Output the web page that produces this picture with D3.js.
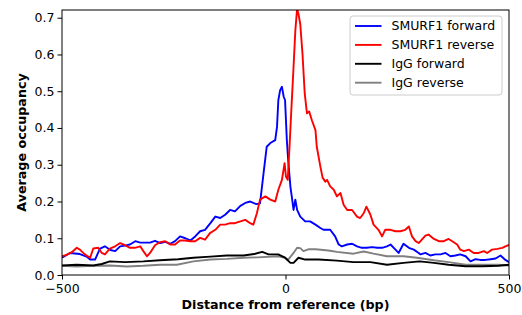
<!DOCTYPE html>
<html>
<head>
<meta charset="utf-8">
<script src="https://cdn.jsdelivr.net/npm/d3@7"></script>
<style>
  html, body { margin: 0; padding: 0; background: #fff; overflow: hidden; }
  svg { display: block; }
  text { font-family: "DejaVu Sans", sans-serif; }
</style>
</head>
<body>
<div id="chart"></div>
<script>
// series values: [distance (bp), average occupancy]
const smurfForward = [
    [-500, 0.047], [-482, 0.060], [-460, 0.057], [-445, 0.050], [-437, 0.042], [-426, 0.042],
    [-415, 0.072], [-404, 0.078], [-392, 0.068], [-381, 0.065], [-370, 0.078], [-359, 0.080],
    [-348, 0.083], [-336, 0.092], [-325, 0.088], [-314, 0.088], [-303, 0.088], [-292, 0.093],
    [-280, 0.087], [-269, 0.090], [-258, 0.085], [-247, 0.092], [-236, 0.105], [-224, 0.100],
    [-213, 0.094], [-202, 0.105], [-191, 0.119], [-180, 0.123], [-168, 0.141], [-157, 0.159],
    [-146, 0.155], [-135, 0.164], [-124, 0.177], [-113, 0.173], [-101, 0.188], [-90, 0.196],
    [-79, 0.200], [-72, 0.196], [-65, 0.193], [-57, 0.195], [-49, 0.278], [-42, 0.349],
    [-34, 0.359], [-23, 0.367], [-19, 0.403], [-16, 0.476], [-12, 0.503], [-8, 0.512],
    [-4, 0.485], [-1, 0.476], [3, 0.367], [6, 0.313], [11, 0.240], [14, 0.214], [18, 0.177],
    [22, 0.205], [26, 0.177], [33, 0.159], [44, 0.146], [55, 0.146], [67, 0.137], [78, 0.128],
    [85, 0.123], [93, 0.123], [100, 0.123], [111, 0.105], [119, 0.083], [126, 0.078],
    [138, 0.083], [149, 0.085], [160, 0.078], [171, 0.074], [182, 0.074], [194, 0.076],
    [205, 0.074], [216, 0.074], [227, 0.078], [235, 0.083], [246, 0.069], [253, 0.060],
    [264, 0.085], [276, 0.074], [287, 0.069], [298, 0.060], [302, 0.056], [313, 0.060],
    [324, 0.053], [335, 0.056], [347, 0.056], [358, 0.060], [369, 0.051], [380, 0.053],
    [391, 0.056], [403, 0.051], [414, 0.037], [425, 0.043], [436, 0.041], [447, 0.041],
    [459, 0.043], [470, 0.045], [481, 0.053], [492, 0.041], [500, 0.035]
];

const smurfReverse = [
    [-500, 0.051], [-490, 0.055], [-478, 0.062], [-467, 0.074], [-460, 0.069], [-449, 0.056],
    [-437, 0.047], [-430, 0.072], [-419, 0.074], [-411, 0.060], [-404, 0.056], [-393, 0.072],
    [-381, 0.078], [-370, 0.087], [-359, 0.081], [-348, 0.074], [-337, 0.074], [-325, 0.078],
    [-318, 0.065], [-310, 0.051], [-303, 0.060], [-292, 0.081], [-281, 0.089], [-269, 0.092],
    [-258, 0.083], [-247, 0.083], [-236, 0.094], [-225, 0.094], [-213, 0.092], [-202, 0.092],
    [-191, 0.101], [-180, 0.096], [-169, 0.114], [-157, 0.123], [-146, 0.137], [-135, 0.137],
    [-124, 0.141], [-113, 0.141], [-101, 0.146], [-90, 0.150], [-79, 0.141], [-72, 0.137],
    [-64, 0.168], [-57, 0.205], [-45, 0.214], [-34, 0.205], [-23, 0.200], [-16, 0.232],
    [-8, 0.259], [-2, 0.304], [1, 0.268], [5, 0.259], [9, 0.349], [13, 0.448], [18, 0.566],
    [22, 0.665], [26, 0.725], [29, 0.710], [33, 0.683], [38, 0.602], [43, 0.494], [48, 0.440],
    [53, 0.445], [59, 0.421], [67, 0.394], [70, 0.349], [78, 0.295], [83, 0.265], [89, 0.254],
    [93, 0.259], [100, 0.241], [108, 0.232], [115, 0.214], [123, 0.223], [130, 0.191],
    [138, 0.177], [149, 0.177], [160, 0.159], [167, 0.155], [175, 0.168], [181, 0.186],
    [190, 0.164], [197, 0.137], [208, 0.123], [216, 0.105], [223, 0.123], [235, 0.123],
    [246, 0.119], [257, 0.119], [268, 0.123], [276, 0.132], [283, 0.105], [291, 0.092],
    [298, 0.087], [302, 0.092], [313, 0.107], [320, 0.110], [332, 0.098], [343, 0.092],
    [354, 0.092], [365, 0.098], [373, 0.092], [384, 0.083], [391, 0.069], [399, 0.065],
    [410, 0.069], [421, 0.060], [432, 0.060], [444, 0.065], [451, 0.060], [462, 0.069],
    [474, 0.071], [485, 0.074], [492, 0.078], [500, 0.082]
];

const iggForward = [
    [-500, 0.026], [-467, 0.028], [-430, 0.026], [-411, 0.030], [-393, 0.037], [-359, 0.035],
    [-318, 0.037], [-281, 0.040], [-240, 0.043], [-206, 0.047], [-168, 0.050], [-131, 0.053],
    [-94, 0.053], [-70, 0.057], [-52, 0.063], [-38, 0.056], [-16, 0.056], [-1, 0.047],
    [11, 0.033], [18, 0.033], [29, 0.047], [44, 0.042], [74, 0.042], [115, 0.039],
    [152, 0.035], [190, 0.035], [227, 0.028], [264, 0.033], [300, 0.037], [332, 0.033],
    [365, 0.028], [403, 0.024], [440, 0.024], [477, 0.025], [500, 0.028]
];

const iggReverse = [
    [-500, 0.025], [-467, 0.023], [-430, 0.025], [-392, 0.026], [-355, 0.023], [-318, 0.025],
    [-281, 0.028], [-243, 0.028], [-206, 0.037], [-168, 0.042], [-131, 0.044], [-94, 0.047],
    [-63, 0.048], [-16, 0.051], [-1, 0.047], [6, 0.042], [18, 0.060], [26, 0.074], [33, 0.073],
    [40, 0.065], [51, 0.070], [67, 0.070], [85, 0.068], [100, 0.066], [115, 0.063],
    [152, 0.058], [175, 0.064], [197, 0.058], [227, 0.051], [264, 0.051], [294, 0.047],
    [332, 0.040], [365, 0.035], [403, 0.028], [440, 0.028], [477, 0.028], [500, 0.026]
];

const seriesNames = ['SMURF1 forward', 'SMURF1 reverse', 'IgG forward', 'IgG reverse'];
const seriesColors = ['#0000ff', '#ff0000', '#000000', '#808080'];
const xTicks = [-500, 0, 500];
const yTicks = [0, 0.1, 0.2, 0.3, 0.4, 0.5, 0.6, 0.7];

const width = 522, height = 315;
const margin = { top: 10, right: 13, bottom: 40, left: 62 };
const innerWidth = width - margin.left - margin.right;
const innerHeight = height - margin.top - margin.bottom;

const svg = d3.select('#chart')
    .append('svg')
    .attr('width', width)
    .attr('height', height);

const x = d3.scaleLinear().domain([-500, 500]).range([0, innerWidth]);
const y = d3.scaleLinear().domain([0, 0.721]).range([innerHeight, 0]);

const g = svg.append('g')
    .attr('transform', `translate(${margin.left}, ${margin.top})`);

g.append('clipPath')
    .attr('id', 'plot-clip')
    .append('rect')
    .attr('width', innerWidth)
    .attr('height', innerHeight);

const line = d3.line()
    .x(d => x(d[0]))
    .y(d => y(d[1]));

const allSeries = [smurfForward, smurfReverse, iggForward, iggReverse];

// draw order: IgG first, then SMURF1 on top
const drawOrder = [3, 2, 0, 1];
drawOrder.forEach(i => {
    g.append('path')
        .datum(allSeries[i])
        .attr('clip-path', 'url(#plot-clip)')
        .attr('fill', 'none')
        .attr('stroke', seriesColors[i])
        .attr('stroke-width', 1.9)
        .attr('stroke-linejoin', 'round')
        .attr('d', line);
});

const fmtX = d => d < 0 ? '\u2212' + Math.abs(d) : String(d);

g.append('g')
    .attr('transform', `translate(0, ${innerHeight})`)
    .call(d3.axisBottom(x).tickValues(xTicks).tickFormat(fmtX).tickSize(4.5).tickPadding(5))
    .call(a => a.select('.domain').remove())
    .selectAll('text')
    .attr('font-size', '12.5px')
    .attr('fill', '#000');

g.append('g')
    .call(d3.axisLeft(y).tickValues(yTicks).tickFormat(d3.format('.1f')).tickSize(4.5).tickPadding(3))
    .call(a => a.select('.domain').remove())
    .selectAll('text')
    .attr('font-size', '12.5px')
    .attr('fill', '#000');

// frame
g.append('rect')
    .attr('width', innerWidth)
    .attr('height', innerHeight)
    .attr('fill', 'none')
    .attr('stroke', '#000')
    .attr('stroke-width', 1);

svg.append('text')
    .attr('x', margin.left + innerWidth / 2)
    .attr('y', 309)
    .attr('text-anchor', 'middle')
    .attr('font-size', '12.7px')
    .attr('font-weight', 'bold')
    .text('Distance from reference (bp)');

svg.append('text')
    .attr('transform', `translate(26, ${margin.top + innerHeight / 2}) rotate(-90)`)
    .attr('text-anchor', 'middle')
    .attr('font-size', '12.7px')
    .attr('font-weight', 'bold')
    .text('Average occupancy');

// legend
const legend = svg.append('g').attr('transform', 'translate(350, 16)');
legend.append('rect')
    .attr('width', 152)
    .attr('height', 79)
    .attr('rx', 3)
    .attr('fill', '#fff')
    .attr('fill-opacity', 0.8)
    .attr('stroke', '#cccccc')
    .attr('stroke-width', 1);

seriesNames.forEach((name, i) => {
    const row = legend.append('g').attr('transform', `translate(0, ${10 + i * 18.9})`);
    row.append('line')
        .attr('x1', 5).attr('x2', 31.5)
        .attr('stroke', seriesColors[i])
        .attr('stroke-width', 1.9);
    row.append('text')
        .attr('x', 41.5)
        .attr('dy', '0.35em')
        .attr('font-size', '12.5px')
        .text(name);
});
</script>
</body>
</html>
